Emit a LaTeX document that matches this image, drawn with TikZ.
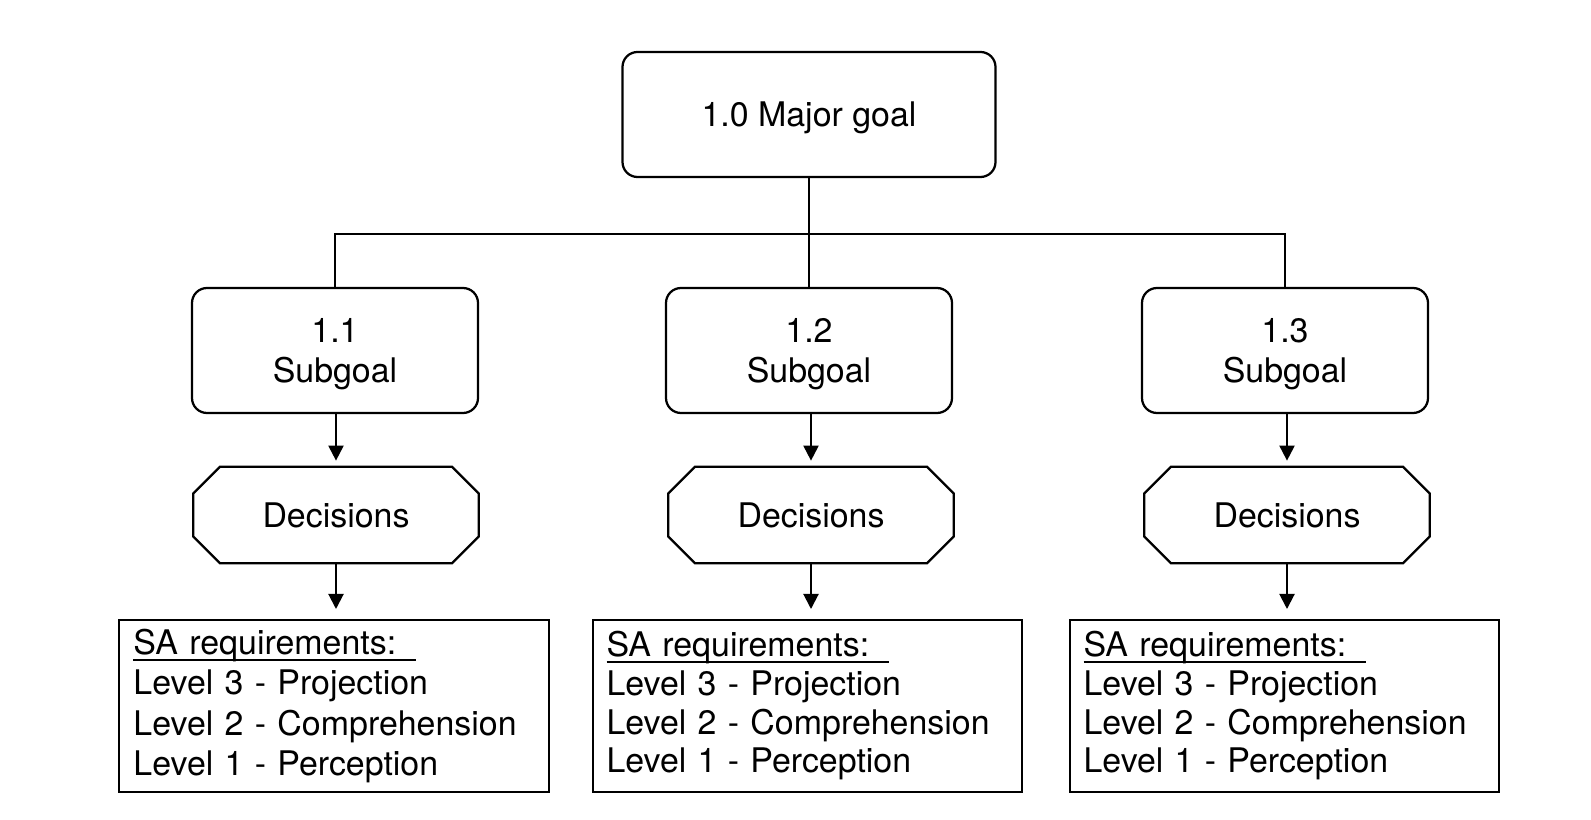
\documentclass[tikz,border=0pt]{standalone}
\usepackage{fontspec}
\setmainfont{TeX Gyre Heros}
\usepackage{tikz}
\usetikzlibrary{arrows.meta}
\tikzstyle{goal} = [rectangle, rounded corners=3mm, draw, line width=0.45mm, minimum width=74.6mm, minimum height=25mm, text depth=0pt, align=center, font=\fontsize{19.3}{22.7}\selectfont]
\tikzstyle{subgoal} = [goal, minimum width=57.2mm]
\tikzstyle{decision} = [rectangle, minimum width=57mm, minimum height=19.2mm, font=\fontsize{19.3}{22.7}\selectfont]
\tikzstyle{sabox} = [rectangle, draw, line width=0.4mm, text width=80.2mm, inner xsep=2.8mm, minimum height=34.4mm, align=left, font=\fontsize{19.3}{22}\selectfont]
\tikzstyle{line} = [draw, line width=0.4mm]
\tikzstyle{arrow} = [line, -{Triangle[length=3mm, width=3mm]}]
\newcommand{\saheading}{\rlap{\rule[-1.15mm]{56.4mm}{0.35mm}}SA requirements:}
\newcommand{\octagon}[1]{\path [line, line width=0.45mm] ([xshift=5.4mm]#1.north west) -- ([xshift=-5.4mm]#1.north east) -- ([yshift=-5.4mm]#1.north east) -- ([yshift=5.4mm]#1.south east) -- ([xshift=-5.4mm]#1.south east) -- ([xshift=5.4mm]#1.south west) -- ([yshift=5.4mm]#1.south west) -- ([yshift=-5.4mm]#1.north west) -- cycle;}

\begin{document}
\begin{tikzpicture}[x=0.2mm, y=-0.2mm]
			\useasboundingbox (0,0) rectangle (1591,820);
			\node [goal] (major) at (809, 114.5) {1.0 Major goal};
			\node [subgoal] (sub1) at (335, 350.5) {1.1\\Subgoal};
			\node [subgoal] (sub2) at (809, 350.5) {1.2\\Subgoal};
			\node [subgoal] (sub3) at (1285, 350.5) {1.3\\Subgoal};
			\node [decision] (dec1) at (336, 515) {Decisions};
			\node [decision] (dec2) at (811, 515) {Decisions};
			\node [decision] (dec3) at (1287, 515) {Decisions};
			\node [sabox, font=\fontsize{19.3}{22.8}\selectfont] (sa1) at (334, 706) {\saheading\\Level 3 - Projection\\Level 2 - Comprehension\\Level 1 - Perception};
			\node [sabox] (sa2) at (807, 706) {\saheading\\Level 3 - Projection\\Level 2 - Comprehension\\Level 1 - Perception};
			\node [sabox] (sa3) at (1284, 706) {\saheading\\Level 3 - Projection\\Level 2 - Comprehension\\Level 1 - Perception};
			\coordinate (bus) at (809, 234);
			\octagon{dec1}
			\octagon{dec2}
			\octagon{dec3}

			\path [line] (major) -- (sub2);
			\path [line] (sub1.north) |- (bus) -| (sub3.north);
			\path [arrow, shorten >=1.2mm] (sub1.south -| dec1) -- (dec1);
			\path [arrow, shorten >=1.2mm] (sub2.south -| dec2) -- (dec2);
			\path [arrow, shorten >=1.2mm] (sub3.south -| dec3) -- (dec3);
			\path [arrow, shorten >=2mm] (dec1) -- (dec1 |- sa1.north);
			\path [arrow, shorten >=2mm] (dec2) -- (dec2 |- sa2.north);
			\path [arrow, shorten >=2mm] (dec3) -- (dec3 |- sa3.north);
		\end{tikzpicture}
\end{document}
